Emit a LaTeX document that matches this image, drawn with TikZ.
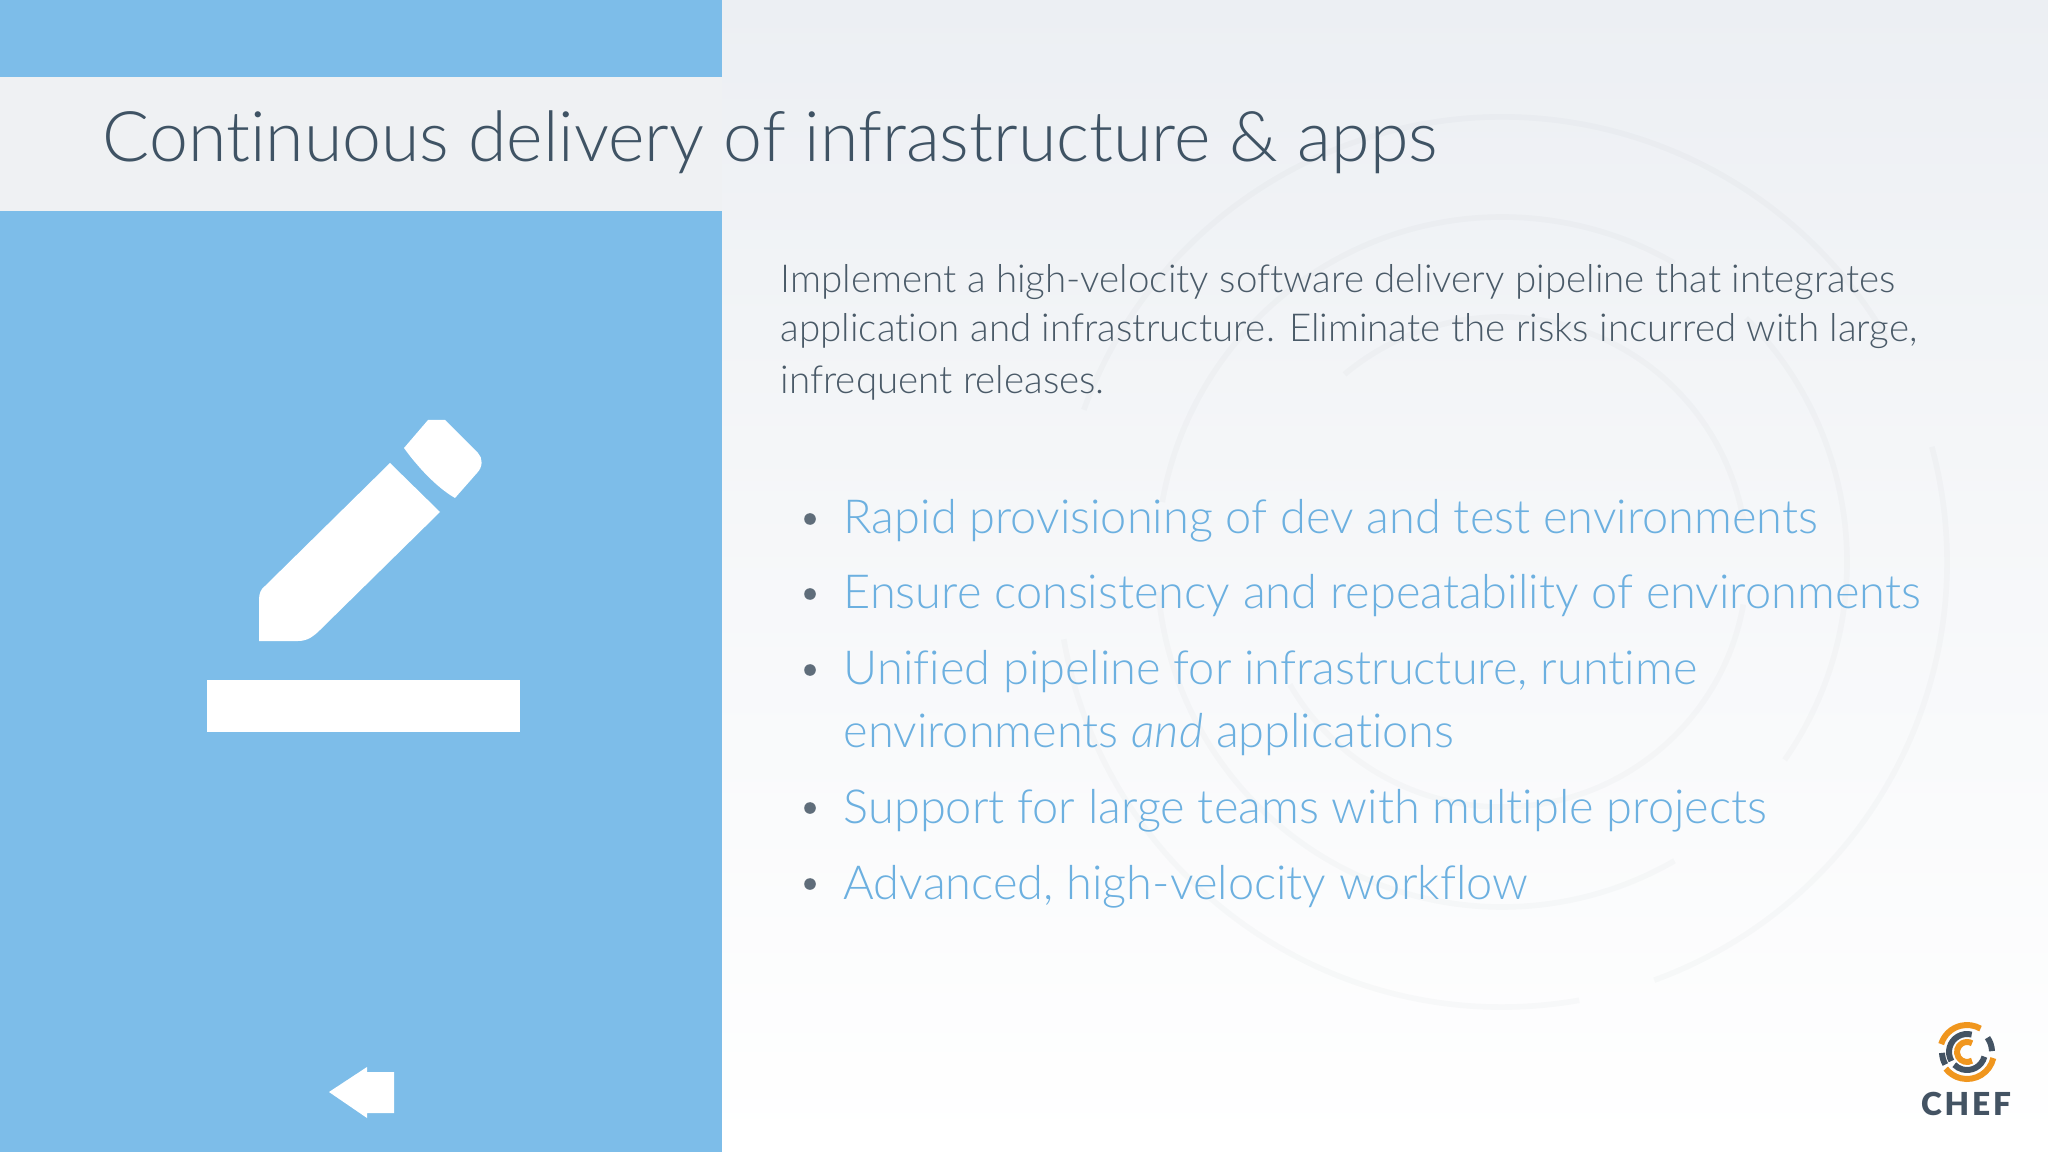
\documentclass[tikz,border=0pt]{standalone}
\usepackage{fontspec}
\setmainfont[Ligatures=NoCommon]{Lato Light}
\newfontfamily\italicword[Ligatures=NoCommon]{Lato Light Italic}
\newfontfamily\logofont[LetterSpace=9]{Lato Black}
\definecolor{panelblue}{HTML}{7DBDE9}
\definecolor{stripgrey}{HTML}{EFF1F3}
\definecolor{pagetop}{HTML}{ECEFF3}
\definecolor{titleink}{HTML}{3F5364}
\definecolor{bodyink}{HTML}{4A5A68}
\definecolor{bulletblue}{HTML}{6CB0E0}
\definecolor{logoorange}{HTML}{F0961E}
\definecolor{logoslate}{HTML}{435363}
\begin{document}
\begin{tikzpicture}
[x=0.01cm,y=-0.01cm,
  paneldecorate/.style={fill=panelblue,draw=none},%
  icondecorate/.style={fill=white,draw=none},%
  titledecorate/.style={anchor=base west,inner sep=0pt,text=titleink,font=\fontsize{19.85}{22}\selectfont},%
  bodydecorate/.style={anchor=base west,inner sep=0pt,text=bodyink,font=\fontsize{10.95}{13}\selectfont},%
  itemdecorate/.style={anchor=base west,inner sep=0pt,text=bulletblue,font=\fontsize{13.35}{16}\selectfont},%
  dotdecorate/.style={shape=circle,inner sep=0pt,minimum size=3.3pt,fill=logoslate!85},%
  geardecorate/.style={draw=logoslate,draw opacity=0.028,line width=1.6pt}]
\useasboundingbox (0,0) rectangle (2048,1152);
%% page and panels
\shade[top color=pagetop,bottom color=white,middle color=pagetop!45] (0,0) rectangle (2048,1152);
\fill[panelblue] (0,0) rectangle (722,77);
\fill[stripgrey] (0,77) rectangle (722,211);
\fill[paneldecorate] (0,211) rectangle (722,1152);
%% faint gear behind the text
\foreach \startangle/\endangle/\radius in {200/330/445, 345/430/445, 80/170/445,
  190/300/345, 315/395/345, 60/175/345, 230/350/245, 10/150/245} {
  \draw[geardecorate] (1502,562) ++(\startangle:\radius) arc[start angle=\startangle,end angle=\endangle,radius=\radius];
}
%% title and text
\node (title) at (102,162) [titledecorate] {Continuous delivery of infrastructure \& apps};
\foreach \nodename/\y/\linetext in {lineone/293/{Implement a high-velocity software delivery pipeline that integrates},
  linetwo/342/{application and infrastructure. Eliminate the risks incurred with large,},
  linethree/394/{infrequent releases.}} {
  \node (\nodename) at (780,\y) [bodydecorate] {\linetext};
}
\foreach \nodename/\y/\linetext in {itemone/534/{Rapid provisioning of dev and test environments},
  itemtwo/609/{Ensure consistency and repeatability of environments},
  itemthree/685/{Unified pipeline for infrastructure, runtime},
  itemfive/823/{Support for large teams with multiple projects},
  itemsix/899/{Advanced, high-velocity workflow}} {
  \node (\nodename) at (843,\y) [itemdecorate] {\linetext};
  \node (dot\nodename) at (810,\y-15) [dotdecorate] {};
}
\node (itemfour) at (843,747) [itemdecorate] {environments {\italicword and} applications};
%% pencil and bar
\fill[icondecorate] (390,463) -- (440,512) -- (320,630) .. controls (312,638) and (306,641) .. (298,641)
  -- (259,641) -- (259,600) .. controls (259,593) and (261,589) .. (265,586) -- cycle;
\fill[icondecorate] (428,420) -- (445,420) -- (478,453) .. controls (483,458) and (483,467) .. (477,473)
  -- (455,498) .. controls (436,487) and (417,466) .. (404,448) -- cycle;
\fill[icondecorate] (207,680) rectangle (520,732);
%% back arrow
\fill[icondecorate] (329,1092) -- (367,1067) -- (367,1072) -- (394,1072) -- (394,1113) -- (367,1113) -- (367,1118) -- cycle;
%% logo
\foreach \startangle/\endangle/\radius in {197/300/27, 13/142/27, 60/300/10} {
  \draw[logoorange,line width=1.7pt] (1967,1052) ++(\startangle:\radius) arc[start angle=\startangle,end angle=\endangle,radius=\radius];
}
\foreach \startangle/\endangle/\radius in {150/285/18, 15/135/18, 325/358/25, 150/178/25} {
  \draw[logoslate,line width=1.7pt] (1967,1052) ++(\startangle:\radius) arc[start angle=\startangle,end angle=\endangle,radius=\radius];
}
\node (chef) at (1966,1115) [anchor=base,inner sep=0pt,text=logoslate,font=\logofont\fontsize{9}{11}\selectfont] {CHEF};
\end{tikzpicture}
\end{document}
